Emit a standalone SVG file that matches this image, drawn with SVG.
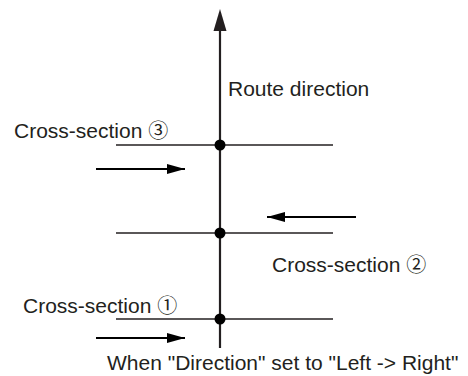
<svg xmlns="http://www.w3.org/2000/svg" width="468" height="376" viewBox="0 0 468 376">
<style>
text{font-family:"Liberation Sans","DejaVu Sans",Arial,sans-serif;font-size:21px;fill:#231f20}
.cd{font-family:"Noto Sans CJK JP","DejaVu Sans",sans-serif;font-size:20px}
.sec{stroke:#231f20;stroke-width:1.4;fill:none}
.arr{stroke:#000;stroke-width:2.2;fill:none}
.dot{fill:#000}
</style>
<defs>
<marker id="ah" markerUnits="userSpaceOnUse" markerWidth="20" markerHeight="12" refX="18" refY="6" orient="auto">
<path d="M0,1 L18,6 L0,11 Z" fill="#000"/>
</marker>
</defs>
<rect width="468" height="376" fill="#fff"/>
<g id="route">
<line x1="220" y1="28" x2="220" y2="348" stroke="#231f20" stroke-width="2.2"/>
<path d="M220,9 L226.5,31 L213.5,31 Z" fill="#231f20"/>
<text x="228" y="96">Route direction</text>
</g>
<g id="section3">
<line class="sec" x1="116" y1="145" x2="333" y2="145"/>
<circle class="dot" cx="220" cy="145" r="5.5"/>
<text x="14" y="138">Cross-section <tspan class="cd">③</tspan></text>
</g>
<g id="section2">
<line class="sec" x1="116" y1="233" x2="333" y2="233"/>
<circle class="dot" cx="220" cy="233" r="5.5"/>
<text x="272" y="272">Cross-section <tspan class="cd">②</tspan></text>
</g>
<g id="section1">
<line class="sec" x1="116" y1="319" x2="333" y2="319"/>
<circle class="dot" cx="220" cy="319" r="5.5"/>
<text x="23" y="312.5">Cross-section <tspan class="cd">①</tspan></text>
</g>
<g id="connectors">
<line class="arr" x1="96" y1="169" x2="185" y2="169" marker-end="url(#ah)"/>
<line class="arr" x1="356" y1="217" x2="267" y2="217" marker-end="url(#ah)"/>
<line class="arr" x1="96" y1="338" x2="185" y2="338" marker-end="url(#ah)"/>
</g>
<text x="107" y="370">When "Direction" set to "Left -&gt; Right"</text>
</svg>
